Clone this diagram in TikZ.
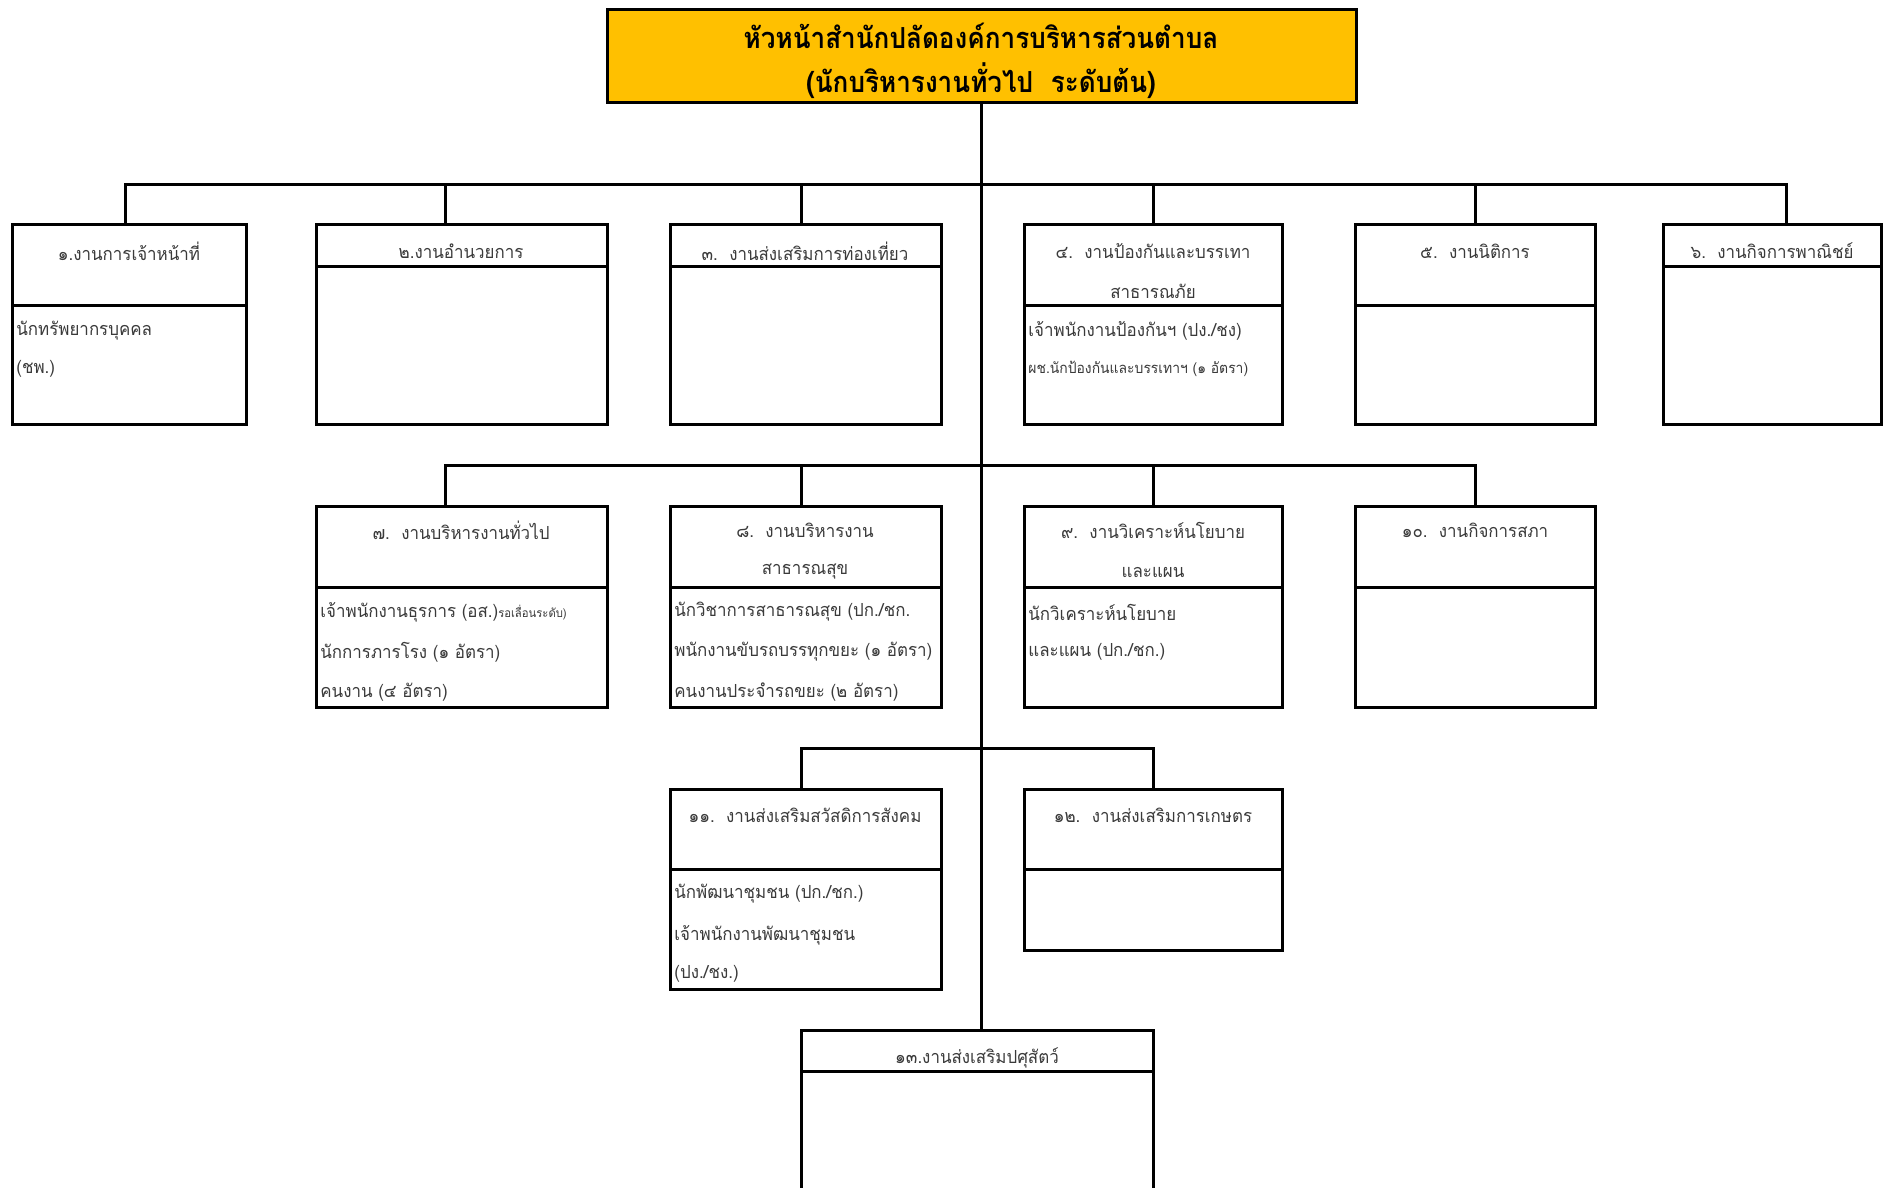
\documentclass[tikz,border=0pt]{standalone}
\usepackage{fontspec}
\newfontfamily\thai[Script=Thai,FakeStretch=0.94]{Loma}
\newfontfamily\thait[Script=Thai,FakeStretch=0.9]{Loma}
\definecolor{gold}{HTML}{FFC000}
\definecolor{txt}{HTML}{3A3A3A}
\newcommand\obox[6]{%
  \pgfmathsetmacro\obw{(#4-#2)/2}%
  \pgfmathsetmacro\obh{(#5-#3)/2}%
  \node[orgbox, anchor=north west, minimum width=\obw pt, minimum height=\obh pt] (#1) at (#2,#3) {};%
  \draw[divl] (#1.west |- 0,#6) -- (#1.east |- 0,#6);%
}
\begin{document}
\begin{tikzpicture}[x=0.5pt,y=-0.5pt,
  orgbox/.style={draw=black, line width=1.5pt, inner sep=0pt, outer sep=0pt, fill=white},
  conn/.style={draw=black, line width=1.5pt},
  divl/.style={draw=black, line width=1.5pt},
  hd/.style={font=\thai\fontsize{9}{11}\selectfont, text=txt, inner sep=0pt},
  bd/.style={hd, anchor=west},
  sm/.style={font=\thai\fontsize{7.4}{9}\selectfont, text=txt, inner sep=0pt, anchor=west},
  ttl/.style={font=\thait\bfseries\fontsize{14.5}{17}\selectfont, text=black, inner sep=0pt}]
\useasboundingbox (0,0) rectangle (1885,1188);
\fill[white] (0,0) rectangle (1885,1188);
\clip (0,0) rectangle (1885,1188);

% top box
\node[orgbox, fill=gold, anchor=north west, minimum width=374.5pt, minimum height=46.5pt] (top) at (607,10) {};

% boxes
\obox{b1}{12}{224}{246}{424}{305}
\obox{b2}{316}{224}{607}{424}{266}
\obox{b3}{670}{224}{941}{424}{266}
\obox{b4}{1024}{224}{1282}{424}{305}
\obox{b5}{1355}{224}{1595}{424}{305}
\obox{b6}{1663}{224}{1881}{424}{266}
\obox{b7}{316}{506}{607}{707}{587}
\obox{b8}{670}{506}{941}{707}{587}
\obox{b9}{1024}{506}{1282}{707}{587}
\obox{b10}{1355}{506}{1595}{707}{587}
\obox{b11}{670}{789}{941}{989}{869}
\obox{b12}{1024}{789}{1282}{950}{869}
\obox{b13}{801}{1030}{1153}{1230}{1071}

% connectors
\coordinate (r1) at (top.south |- 0,184);
\coordinate (r2) at (top.south |- 0,465);
\coordinate (r3) at (top.south |- 0,748);
\draw[conn] (top.south) -- (top.south |- b13.north);
\draw[conn] (125,0 |- b1.north) |- (r1) -| (1786,0 |- b6.north);
\foreach \xx/\bb in {445/b2,801/b3,1153/b4,1475/b5}
  \draw[conn] (\xx,0 |- \bb.north) -- (\xx,0 |- r1);
\draw[conn] (445,0 |- b7.north) |- (r2) -| (1475,0 |- b10.north);
\foreach \xx/\bb in {801/b8,1153/b9}
  \draw[conn] (\xx,0 |- \bb.north) -- (\xx,0 |- r2);
\draw[conn] (801,0 |- b11.north) |- (r3) -| (1153,0 |- b12.north);

% title
\node[ttl] (t1) at (981,36) {หัวหน้าสำนักปลัดองค์การบริหารส่วนตำบล};
\node[ttl] (t2) at (981,81) {(นักบริหารงานทั่วไป\ \ ระดับต้น)};

% row 1 texts
\node[hd] (h1) at (129,251) {๑.งานการเจ้าหน้าที่};
\node[bd] (p1a) at (16,331) {นักทรัพยากรบุคคล};
\node[bd] (p1b) at (16,369) {(ชพ.)};
\node[hd] (h2) at (461,251) {๒.งานอำนวยการ};
\node[hd] (h3) at (805,251) {๓.\ \ งานส่งเสริมการท่องเที่ยว};
\node[hd] (h4a) at (1153,251) {๔.\ \ งานป้องกันและบรรเทา};
\node[hd] (h4b) at (1153,291) {สาธารณภัย};
\node[bd] (p4a) at (1028,331) {เจ้าพนักงานป้องกันฯ (ปง./ชง)};
\node[sm] (p4b) at (1028,369) {ผช.นักป้องกันและบรรเทาฯ (๑ อัตรา)};
\node[hd] (h5) at (1475,251) {๕.\ \ งานนิติการ};
\node[hd] (h6) at (1772,251) {๖.\ \ งานกิจการพาณิชย์};

% row 2 texts
\node[hd] (h7) at (461,530) {๗.\ \ งานบริหารงานทั่วไป};
\node[bd] (p7a) at (320,612) {เจ้าพนักงานธุรการ (อส.){\fontsize{6}{7}\selectfont รอเลื่อนระดับ)}};
\node[bd] (p7b) at (320,652) {นักการภารโรง (๑ อัตรา)};
\node[bd] (p7c) at (320,692) {คนงาน (๔ อัตรา)};
\node[hd] (h8a) at (805,530) {๘.\ \ งานบริหารงาน};
\node[hd] (h8b) at (805,572) {สาธารณสุข};
\node[bd] (p8a) at (674,612) {นักวิชาการสาธารณสุข (ปก./ชก.};
\node[bd] (p8b) at (674,652) {พนักงานขับรถบรรทุกขยะ (๑ อัตรา)};
\node[bd] (p8c) at (674,692) {คนงานประจำรถขยะ (๒ อัตรา)};
\node[hd] (h9a) at (1153,530) {๙.\ \ งานวิเคราะห์นโยบาย};
\node[hd] (h9b) at (1153,572) {และแผน};
\node[bd] (p9a) at (1028,612) {นักวิเคราะห์นโยบาย};
\node[bd] (p9b) at (1028,652) {และแผน (ปก./ชก.)};
\node[hd] (h10) at (1475,530) {๑๐.\ \ งานกิจการสภา};

% row 3 texts
\node[hd] (h11) at (805,815) {๑๑.\ \ งานส่งเสริมสวัสดิการสังคม};
\node[bd] (p11a) at (674,894) {นักพัฒนาชุมชน (ปก./ชก.)};
\node[bd] (p11b) at (674,935) {เจ้าพนักงานพัฒนาชุมชน};
\node[bd] (p11c) at (674,974) {(ปง./ชง.)};
\node[hd] (h12) at (1153,815) {๑๒.\ \ งานส่งเสริมการเกษตร};
\node[hd] (h13) at (977,1058) {๑๓.งานส่งเสริมปศุสัตว์};
\end{tikzpicture}
\end{document}
